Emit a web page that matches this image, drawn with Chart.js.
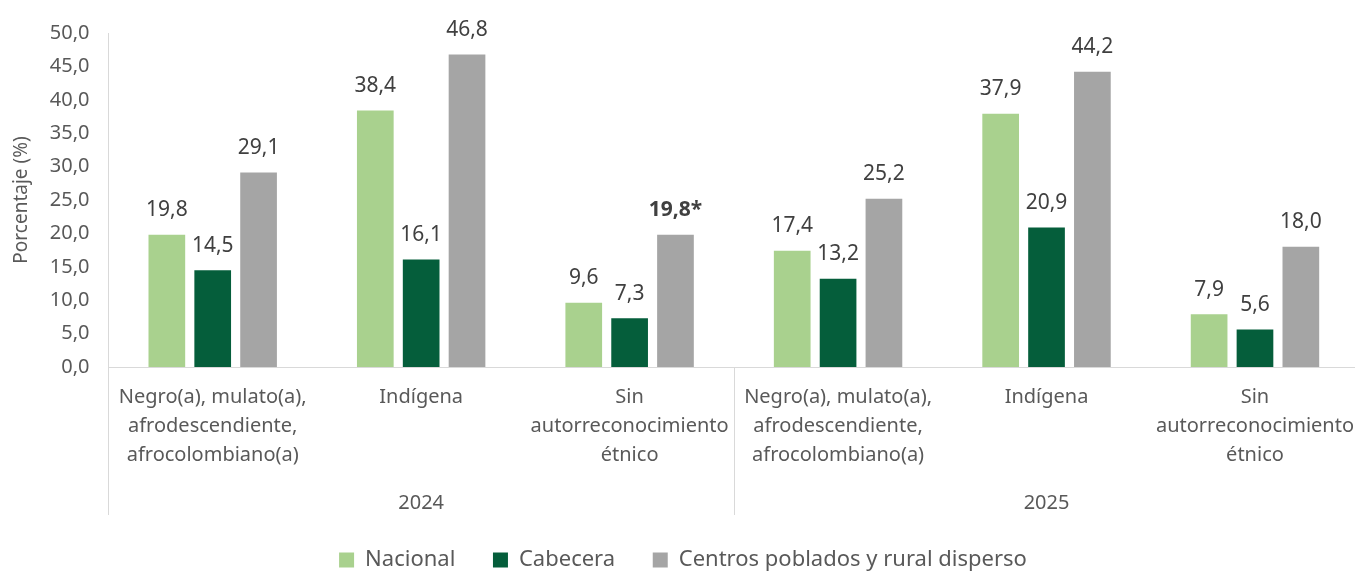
<!DOCTYPE html>
<html>
<head>
<meta charset="utf-8">
<script src="https://cdn.jsdelivr.net/npm/chart.js@4/dist/chart.umd.min.js"></script>
<style>
  html, body { margin: 0; padding: 0; background: #fff; overflow: hidden; }
  #wrap { width: 1362px; height: 581px; }
</style>
</head>
<body>
<div id="wrap"><canvas id="myChart"></canvas></div>
<script>
// categories (two levels: group inside year)
const categorias = [
  ["Negro(a), mulato(a),", "afrodescendiente,", "afrocolombiano(a)"],
  ["Indígena"],
  ["Sin", "autorreconocimiento", "étnico"],
  ["Negro(a), mulato(a),", "afrodescendiente,", "afrocolombiano(a)"],
  ["Indígena"],
  ["Sin", "autorreconocimiento", "étnico"]
];
const anios = ["2024", "2025"];

const nacional = [19.8, 38.4, 9.6, 17.4, 37.9, 7.9];
const cabecera = [14.5, 16.1, 7.3, 13.2, 20.9, 5.6];
const centros  = [29.1, 46.8, 19.8, 25.2, 44.2, 18.0];
// values flagged with an asterisk (bold label)
const centrosNota = [false, false, true, false, false, false];

const fmt = v => v.toFixed(1).replace('.', ',');
const txt = '#595959';
const fuente = "'Noto Sans', 'Open Sans', sans-serif";

const etiquetas = {
  id: 'etiquetas',
  afterDatasetsDraw(chart) {
    const ctx = chart.ctx;
    ctx.save();
    ctx.textAlign = 'center';
    ctx.textBaseline = 'bottom';
    ctx.fillStyle = '#404040';
    chart.data.datasets.forEach((ds, di) => {
      const meta = chart.getDatasetMeta(di);
      meta.data.forEach((bar, i) => {
        const nota = ds.nota && ds.nota[i];
        ctx.font = (nota ? 'bold ' : '') + '21px ' + fuente;
        ctx.fillText(fmt(ds.data[i]) + (nota ? '*' : ''), bar.x, bar.y - 14);
      });
    });
    ctx.restore();
  },
  afterDraw(chart) {
    const x = chart.scales.x;
    const ctx = chart.ctx;
    const paso = x.width / categorias.length;
    const grupo = categorias.length / anios.length;
    const fin = x.bottom - 33;
    ctx.save();
    ctx.strokeStyle = '#d9d9d9';
    ctx.lineWidth = 1;
    for (let g = 0; g <= anios.length; g++) {
      const px = Math.round(x.left + g * grupo * paso) + 0.5;
      if (px > chart.width) continue;
      ctx.beginPath();
      ctx.moveTo(px, x.top);
      ctx.lineTo(px, fin);
      ctx.stroke();
    }
    ctx.fillStyle = txt;
    ctx.font = '20px ' + fuente;
    ctx.textAlign = 'center';
    ctx.textBaseline = 'middle';
    anios.forEach((a, g) => {
      ctx.fillText(a, x.left + (g + 0.5) * grupo * paso, fin - 12);
    });
    ctx.restore();
  }
};

new Chart(document.getElementById('myChart'), {
  type: 'bar',
  data: {
    labels: categorias,
    datasets: [
      { label: 'Nacional', data: nacional, backgroundColor: '#a9d18e' },
      { label: 'Cabecera', data: cabecera, backgroundColor: '#055e3b' },
      { label: 'Centros poblados y rural disperso', data: centros, nota: centrosNota, backgroundColor: '#a5a5a5' }
    ]
  },
  options: {
    responsive: true,
    maintainAspectRatio: false,
    animation: false,
    layout: { padding: { top: 33, right: 0, left: 4, bottom: 0 } },
    datasets: { bar: { categoryPercentage: 0.66, barPercentage: 0.8 } },
    scales: {
      x: {
        grid: { display: false },
        border: { color: '#d9d9d9' },
        ticks: { color: txt, font: { family: fuente, size: 20, lineHeight: 1.45 }, padding: 8, maxRotation: 0, autoSkip: false },
        afterFit(scale) { scale.height += 70; }
      },
      y: {
        min: 0, max: 50,
        grid: { display: false },
        border: { color: '#d9d9d9' },
        ticks: { stepSize: 5, color: txt, font: { family: fuente, size: 20 }, padding: 11, callback: v => fmt(v) },
        title: { display: true, text: 'Porcentaje (%)', color: txt, font: { family: fuente, size: 19 }, padding: 6 }
      }
    },
    plugins: {
      legend: {
        position: 'bottom',
        labels: {
          color: txt, font: { family: fuente, size: 22 }, boxWidth: 15, boxHeight: 15, padding: 1,
          generateLabels(chart) {
            const items = Chart.defaults.plugins.legend.labels.generateLabels(chart);
            items.forEach((it, i) => { if (i < items.length - 1) it.text += '\u2003\u2002\u2009'; });
            return items;
          }
        }
      },
      tooltip: { enabled: false }
    }
  },
  plugins: [etiquetas]
});
</script>
</body>
</html>
